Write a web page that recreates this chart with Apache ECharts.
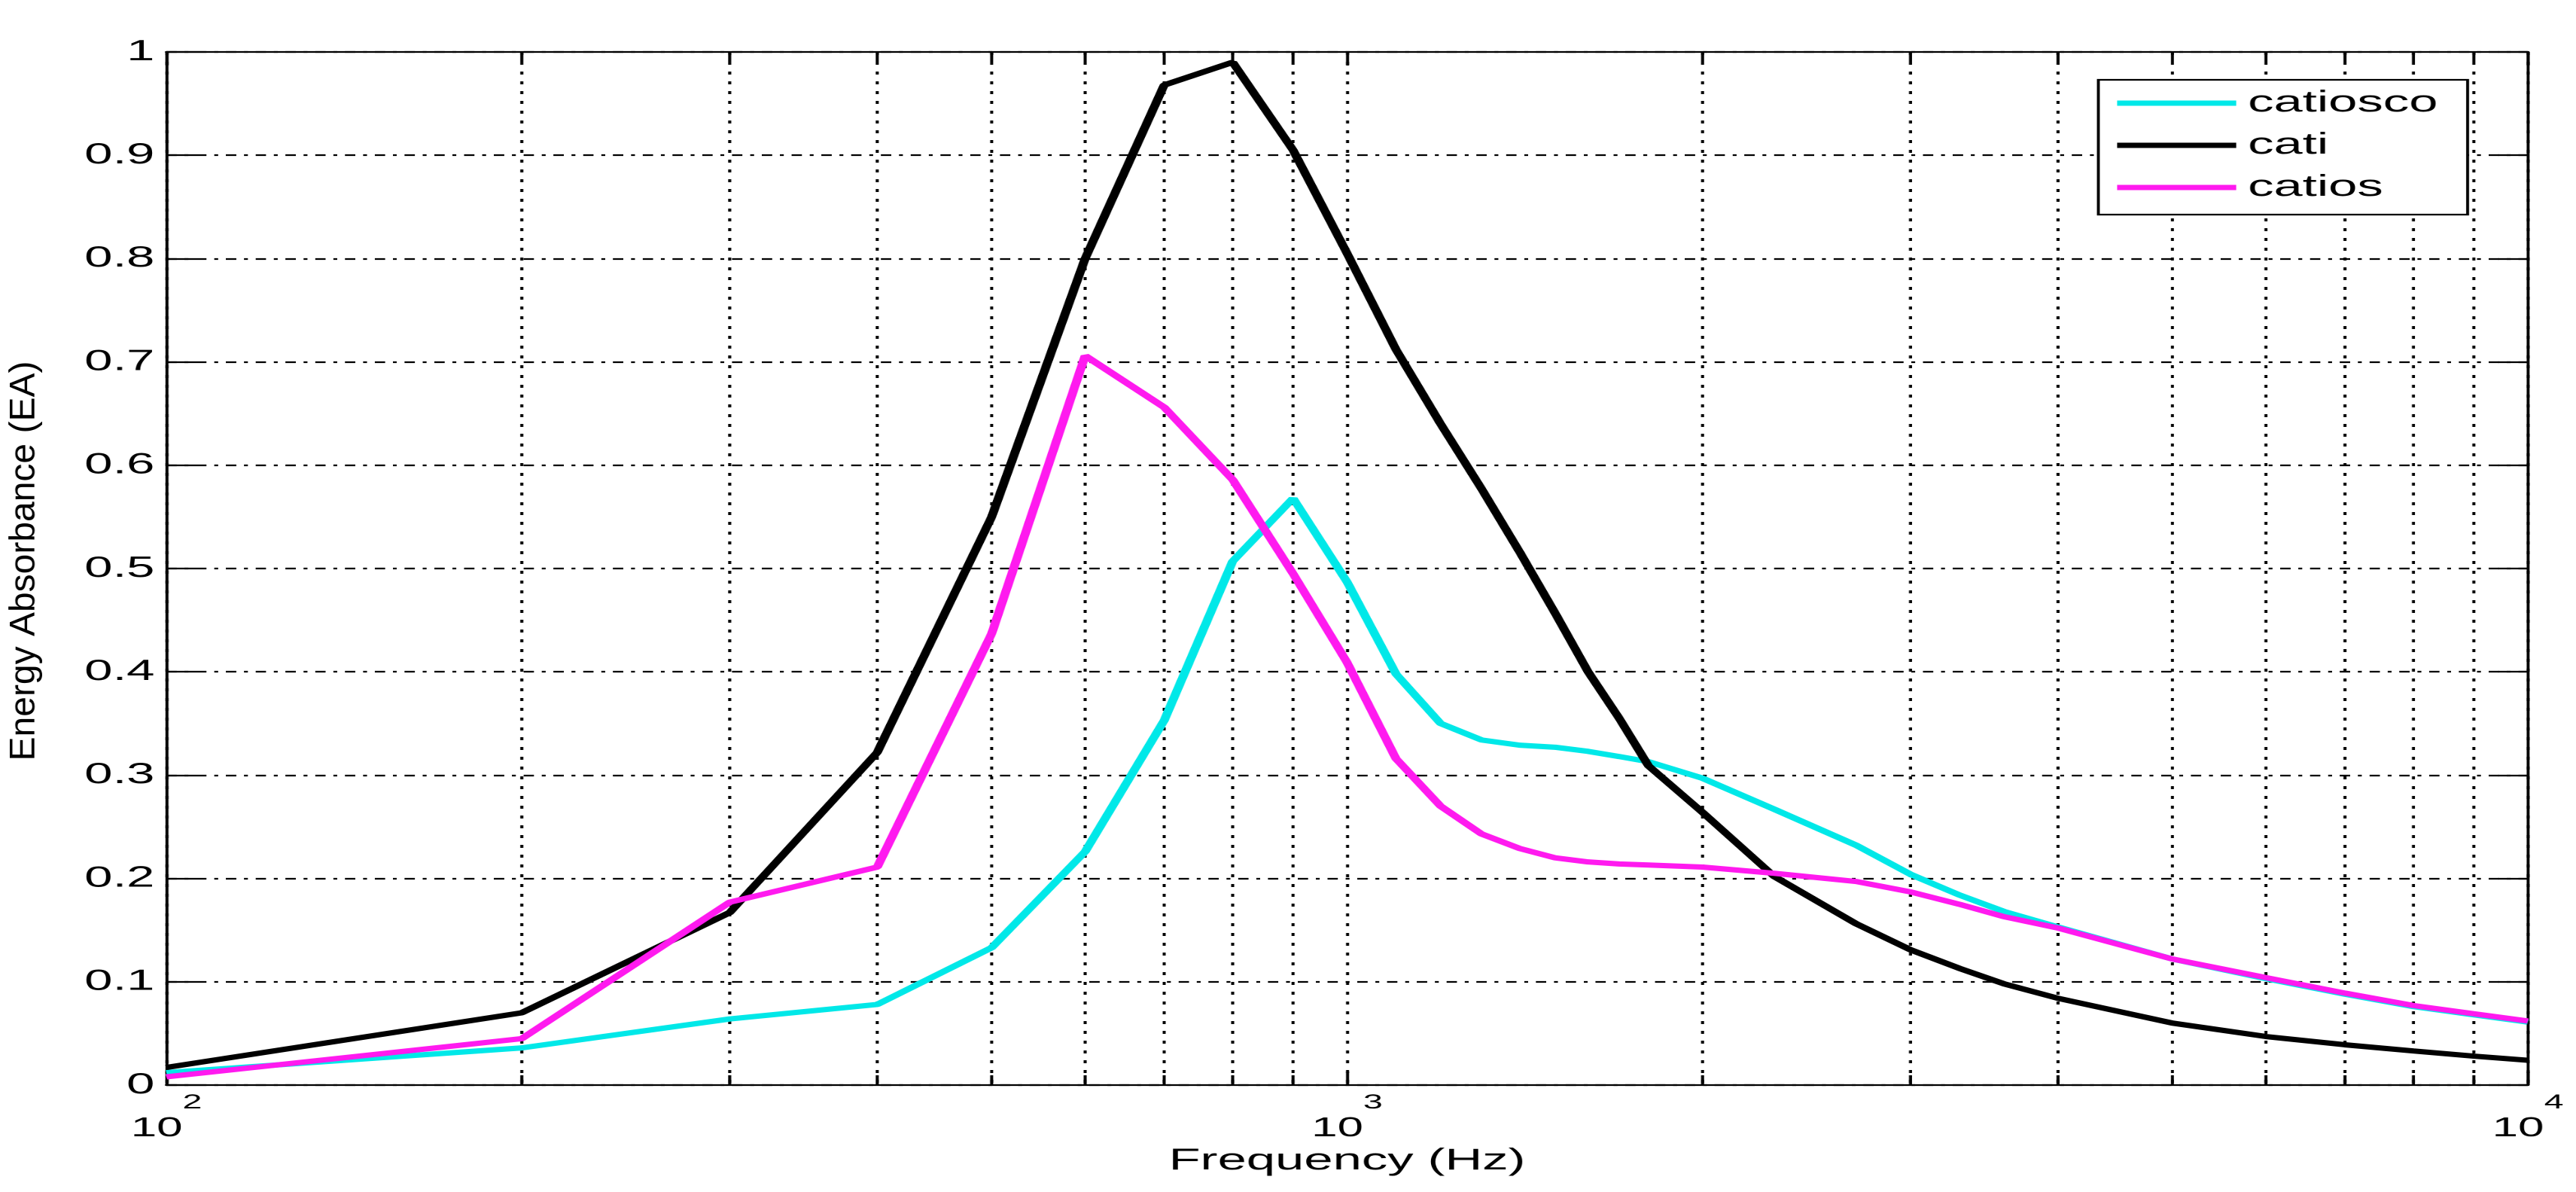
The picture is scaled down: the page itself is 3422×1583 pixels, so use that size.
<!DOCTYPE html>
<html>
<head>
<meta charset="utf-8">
<script src="https://cdn.jsdelivr.net/npm/echarts@6/dist/echarts.min.js"></script>
<style>
html,body{margin:0;padding:0;background:#fff;overflow:hidden;width:3422px;height:1583px;}
#chart{width:1990px;height:1583px;transform:scaleX(1.719598);transform-origin:0 0;}
</style>
</head>
<body>
<div id="chart"></div>
<script>
// ---- data ----
const freqs = [100,200,300,400,500,600,700,800,900,1000,1100,1200,1300,1400,1500,1600,1700,1800,2000,2300,2700,3000,3300,3600,4000,5000,6000,7000,8000,9000,10000];
const catiosco = [0.012,0.036,0.064,0.078,0.133,0.226,0.353,0.507,0.568,0.487,0.398,0.350,0.334,0.329,0.327,0.323,0.318,0.313,0.297,0.267,0.232,0.204,0.184,0.168,0.153,0.122,0.103,0.088,0.076,0.068,0.061];
const cati = [0.017,0.070,0.167,0.322,0.550,0.800,0.968,0.990,0.905,0.805,0.712,0.640,0.577,0.516,0.457,0.400,0.355,0.309,0.264,0.202,0.156,0.131,0.113,0.098,0.084,0.060,0.047,0.039,0.033,0.028,0.024];
const catios = [0.008,0.045,0.177,0.211,0.437,0.706,0.656,0.586,0.495,0.409,0.316,0.270,0.243,0.229,0.220,0.216,0.214,0.213,0.211,0.205,0.197,0.187,0.175,0.163,0.152,0.122,0.104,0.089,0.077,0.069,0.062];
const minorFreqs = [200,300,400,500,600,700,800,900,2000,3000,4000,5000,6000,7000,8000,9000];
const seriesNames = ['catiosco','cati','catios'];
const seriesColors = ['#00e8e8','#000000','#ff1aef'];
const xAxisTitle = 'Frequency (Hz)';
const yAxisTitle = 'Energy Absorbance (EA)';

// ---- chart ----
const SX = 3422 / 1990;
const FONT = '"Liberation Sans", Arial, Helvetica, sans-serif';
const LW = 7;
const chart = echarts.init(document.getElementById('chart'), null, {renderer: 'canvas', devicePixelRatio: 2});
const pairs = vals => freqs.map((f, i) => [f, vals[i]]);
const black = '#000';
const axisLineStyle = {color: black, width: 2.3};
const tickStyle = {color: black, width: 2.3};

const option = {
  animation: false,
  backgroundColor: '#fff',
  textStyle: {fontFamily: FONT},
  grid: {left: 128.5, right: 37.2, top: 69, bottom: 142, containLabel: false},
  legend: {
    data: seriesNames,
    orient: 'vertical',
    left: 1621, top: 106,
    padding: [11, 23, 16, 14.5],
    icon: 'path://M0,0L92,0L92,7L0,7Z',
    symbolKeepAspect: true,
    itemWidth: 92, itemHeight: 40, itemGap: 16,
    backgroundColor: '#fff', borderColor: black, borderWidth: 2.3, borderRadius: 0,
    textStyle: {fontSize: 40, fontFamily: FONT, color: black, lineHeight: 40, padding: [0, 0, 0, 4]}
  },
  xAxis: [{
    type: 'log', logBase: 10, min: 100, max: 10000, position: 'bottom',
    axisLine: {show: true, onZero: false, lineStyle: axisLineStyle},
    axisTick: {show: true, inside: true, length: 18, lineStyle: tickStyle},
    axisLabel: {
      margin: 10,
      formatter: v => '{b|10}{s|' + Math.round(Math.log10(v)) + '}',
      rich: {
        b: {fontSize: 36, lineHeight: 66, verticalAlign: 'bottom', fontFamily: FONT, color: black},
        s: {fontSize: 27, lineHeight: 27, verticalAlign: 'top', fontFamily: FONT, color: black}
      }
    },
    splitLine: {show: true, lineStyle: {color: black, width: 2.3, type: [4, 9]}},
    name: xAxisTitle, nameLocation: 'middle', nameGap: 71,
    nameTextStyle: {fontSize: 40, fontFamily: FONT, color: black}
  }, {
    type: 'log', logBase: 10, min: 100, max: 10000, position: 'top',
    axisLine: {show: true, onZero: false, lineStyle: axisLineStyle},
    axisTick: {show: true, inside: true, length: 18, lineStyle: tickStyle},
    axisLabel: {show: false}, splitLine: {show: false}
  }],
  yAxis: [{
    type: 'value', min: 0, max: 1, interval: 0.1, position: 'left',
    axisLine: {show: true, onZero: false, lineStyle: axisLineStyle},
    axisTick: {show: true, inside: true, length: 23, lineStyle: tickStyle},
    axisLabel: {margin: 9, fontSize: 39, fontFamily: FONT, color: black},
    splitLine: {show: true, lineStyle: {color: black, width: 2.3, type: [8, 6, 3, 6]}}
  }, {
    type: 'value', min: 0, max: 1, interval: 0.1, position: 'right',
    axisLine: {show: true, onZero: false, lineStyle: axisLineStyle},
    axisTick: {show: true, inside: true, length: 23, lineStyle: tickStyle},
    axisLabel: {show: false}, splitLine: {show: false}
  }],
  graphic: [{
    type: 'text', x: 19, y: 745, rotation: Math.PI / 2, scaleY: 1 / SX,
    style: {text: yAxisTitle, font: '48px ' + FONT, fontSize: 48, fontFamily: FONT, fill: black,
            align: 'center', verticalAlign: 'middle', textAlign: 'center', textVerticalAlign: 'middle'}
  }],
  series: [
    {
      type: 'custom', name: 'minor-grid', xAxisIndex: 0, yAxisIndex: 0, silent: true, z: 1,
      data: minorFreqs.map(f => [f, 0]), encode: {x: 0, y: 1},
      renderItem: (params, api) => {
        const x = api.coord([api.value(0), 0])[0];
        const cs = params.coordSys;
        const y0 = cs.y, y1 = cs.y + cs.height;
        return {type: 'group', children: [
          {type: 'line', shape: {x1: x, y1: y0, x2: x, y2: y1}, style: {stroke: black, lineWidth: 2.3, lineDash: [4, 9]}},
          {type: 'line', shape: {x1: x, y1: y1, x2: x, y2: y1 - 13}, style: {stroke: black, lineWidth: 2.3}},
          {type: 'line', shape: {x1: x, y1: y0, x2: x, y2: y0 + 13}, style: {stroke: black, lineWidth: 2.3}}
        ]};
      }
    },
    {name: seriesNames[0], type: 'line', data: pairs(catiosco), symbol: 'none', showSymbol: false, z: 3,
     lineStyle: {color: seriesColors[0], width: LW}, itemStyle: {color: seriesColors[0]}},
    {name: seriesNames[1], type: 'line', data: pairs(cati), symbol: 'none', showSymbol: false, z: 3,
     lineStyle: {color: seriesColors[1], width: LW}, itemStyle: {color: seriesColors[1]}},
    {name: seriesNames[2], type: 'line', data: pairs(catios), symbol: 'none', showSymbol: false, z: 3,
     lineStyle: {color: seriesColors[2], width: LW}, itemStyle: {color: seriesColors[2]}}
  ]
};
chart.setOption(option);
</script>
</body>
</html>
